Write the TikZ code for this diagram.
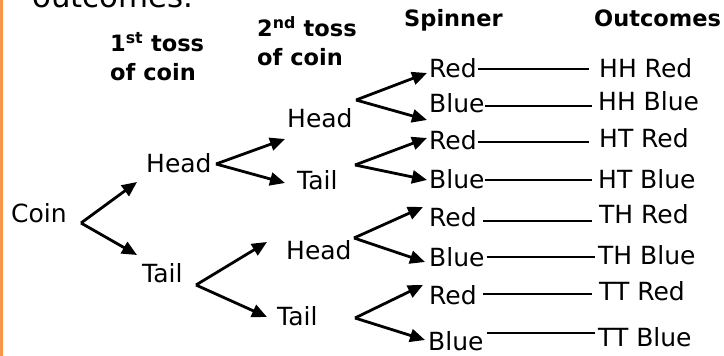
\documentclass[tikz,border=0pt]{standalone}
\usepackage{fontspec}
\setmainfont{DejaVu Sans}
\usetikzlibrary{arrows.meta,calc}
\definecolor{barorange}{RGB}{247,150,70}
\begin{document}
\begin{tikzpicture}[x=1pt,y=-1pt,
  lbl/.style={anchor=base west,inner sep=0pt,font=\fontsize{25}{30}\selectfont},
  hdr/.style={anchor=base west,inner sep=0pt,align=left,font=\fontsize{22.5}{28.5}\selectfont\bfseries},
  arr/.style={line width=2.8pt,-{Triangle[length=15pt,width=13pt]}},
  lnk/.style={line width=1.9pt}]
\useasboundingbox (0,0) rectangle (724,356);
\fill[barorange] (0,0) rectangle (3,356);
\node[anchor=base west,inner sep=0pt,font=\fontsize{30.8}{36}\selectfont] (intro) at (32,8) {outcomes.};
% headers (base anchor = baseline of the last line)
\node[hdr] (h1st) at (110,80) {1\textsuperscript{st} toss\\of coin};
\node[hdr] (h2nd) at (257,65) {2\textsuperscript{nd} toss\\of coin};
\node[hdr] (hsp) at (404,27) {Spinner};
\node[hdr] (hout) at (594,27) {Outcomes};
% tree labels
\node[lbl] (coin) at (11,222) {Coin};
\node[lbl] (h1) at (146,172) {Head};
\node[lbl] (t1) at (142,282) {Tail};
\node[lbl] (h2a) at (287,127) {Head};
\node[lbl] (t2a) at (297,189) {Tail};
\node[lbl] (h2b) at (286,259) {Head};
\node[lbl] (t2b) at (277,325) {Tail};
\node[lbl] (r1) at (429,77) {Red};
\node[lbl] (b1) at (429,112) {Blue};
\node[lbl] (r2) at (429,149) {Red};
\node[lbl] (b2) at (429,188) {Blue};
\node[lbl] (r3) at (429,226) {Red};
\node[lbl] (b3) at (429,266) {Blue};
\node[lbl] (r4) at (429,304) {Red};
\node[lbl] (b4) at (428,350) {Blue};
\node[lbl] (o1) at (599,77) {HH Red};
\node[lbl] (o2) at (598,110) {HH Blue};
\node[lbl] (o3) at (599,147) {HT Red};
\node[lbl] (o4) at (598,188) {HT Blue};
\node[lbl] (o5) at (599,223) {TH Red};
\node[lbl] (o6) at (598,264) {TH Blue};
\node[lbl] (o7) at (599,300) {TT Red};
\node[lbl] (o8) at (598,346) {TT Blue};
% fork points and arrow tips
\coordinate (fc) at (81,223);
\coordinate (fh1) at (216,164);
\coordinate (ft1) at (196,285);
\coordinate (fh2a) at (356,100);
\coordinate (ft2a) at (355,165);
\coordinate (fh2b) at (354,238);
\coordinate (ft2b) at (355,318);
\coordinate (ah1) at (137,182);
\coordinate (at1) at (137,255);
\coordinate (ah2a) at (285,139);
\coordinate (at2a) at (285,183);
\coordinate (ah2b) at (267,242);
\coordinate (at2b) at (267,317);
\coordinate (ar1) at (427,73);
\coordinate (ab1) at (427,120);
\coordinate (ar2) at (427,138);
\coordinate (ab2) at (427,180);
\coordinate (ar3) at (423,207);
\coordinate (ab3) at (425,262);
\coordinate (ar4) at (423,285);
\coordinate (ab4) at (425,340);
\draw[arr] (fc) -- (ah1);
\draw[arr] (fc) -- (at1);
\draw[arr] (fh1) -- (ah2a);
\draw[arr] (fh1) -- (at2a);
\draw[arr] (ft1) -- (ah2b);
\draw[arr] (ft1) -- (at2b);
\draw[arr] (fh2a) -- (ar1);
\draw[arr] (fh2a) -- (ab1);
\draw[arr] (ft2a) -- (ar2);
\draw[arr] (ft2a) -- (ab2);
\draw[arr] (fh2b) -- (ar3);
\draw[arr] (fh2b) -- (ab3);
\draw[arr] (ft2b) -- (ar4);
\draw[arr] (ft2b) -- (ab4);
% links to outcomes
\foreach \s/\o/\yy/\da/\db in {r1/o1/69/1.5/-10, b1/o2/106/0/-6, r2/o3/142/1.5/-10, b2/o4/180/0/-6,
  r3/o5/221/6.5/-7, b3/o6/257/2/-3, r4/o7/294/6.5/-7, b4/o8/333/3/-3}
  \draw[lnk] ($(\s.east |- 0,\yy)+(\da,0)$) -- ($(\o.west |- 0,\yy)+(\db,0)$);
\end{tikzpicture}
\end{document}
